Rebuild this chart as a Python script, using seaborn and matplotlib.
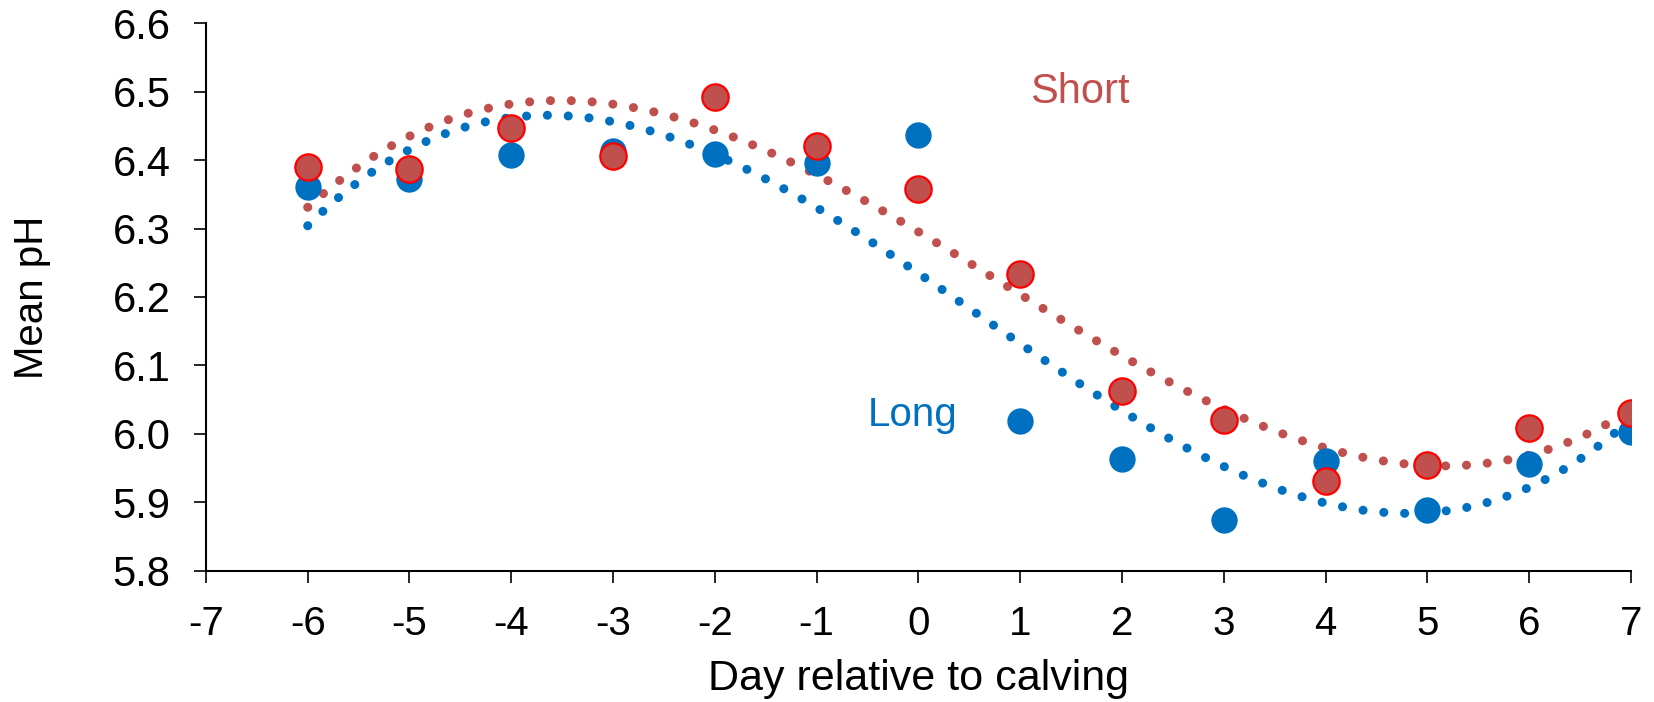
import numpy as np
import pandas as pd
import matplotlib
matplotlib.use("Agg")
import matplotlib.pyplot as plt
import seaborn as sns

# Datos
dias = [-6, -5, -4, -3, -2, -1, 0, 1, 2, 3, 4, 5, 6, 7]
ph_long = [6.361, 6.372, 6.407, 6.413, 6.409, 6.395, 6.437,
           6.019, 5.963, 5.874, 5.960, 5.888, 5.956, 6.002]
ph_short = [6.390, 6.387, 6.447, 6.406, 6.492, 6.420, 6.358,
            6.233, 6.062, 6.020, 5.931, 5.954, 6.008, 6.030]

x_ticks = list(range(-7, 8))
y_ticks = [5.8, 5.9, 6.0, 6.1, 6.2, 6.3, 6.4, 6.5, 6.6]

azul = '#0070C0'
rojo = '#C0504D'

df_long = pd.DataFrame({'dia': dias, 'ph': ph_long})
df_short = pd.DataFrame({'dia': dias, 'ph': ph_short})

sns.set_theme(style='white')
plt.rcParams['font.family'] = ['Liberation Sans', 'DejaVu Sans']

fig, ax = plt.subplots(figsize=(16.54, 7.02), dpi=100)
fig.subplots_adjust(left=0.1245, right=0.986, top=0.967, bottom=0.187)

# Lineas de tendencia polinomicas (orden 3), punteadas
dots = (0, (0.01, 2.3))
sns.regplot(data=df_long, x='dia', y='ph', order=3, ci=None, scatter=False, ax=ax,
            line_kws={'color': azul, 'lw': 6.5, 'linestyle': dots,
                      'dash_capstyle': 'round', 'zorder': 2})
sns.regplot(data=df_short, x='dia', y='ph', order=3, ci=None, scatter=False, ax=ax,
            line_kws={'color': rojo, 'lw': 6.5, 'linestyle': dots,
                      'dash_capstyle': 'round', 'zorder': 2})

# Puntos
sns.scatterplot(data=df_long, x='dia', y='ph', ax=ax, color=azul, s=360,
                edgecolor=azul, linewidth=0, zorder=3)
sns.scatterplot(data=df_short, x='dia', y='ph', ax=ax, color=rojo, s=360,
                edgecolor='#FF0000', linewidth=1.6, zorder=4)

ax.text(1.59, 6.499, 'Short', color=rojo, fontsize=30, ha='center', va='center')
ax.text(-0.06, 6.028, 'Long', color=azul, fontsize=29, ha='center', va='center')

ax.set_xlim(-7, 7)
ax.set_ylim(5.8, 6.6)
ax.set_xticks(x_ticks)
ax.set_xticklabels([str(t) for t in x_ticks])
ax.set_yticks(y_ticks)
ax.set_yticklabels([f'{t:.1f}' for t in y_ticks])

ax.set_xlabel('Day relative to calving', fontsize=31, color='black', va='top')
ax.set_ylabel('Mean pH', fontsize=29, color='black')
ax.xaxis.set_label_coords(0.5, -0.162)
ax.yaxis.set_label_coords(-0.109, 0.5)

ax.tick_params(axis='both', colors='black', direction='out',
               length=8.5, width=1.2, bottom=True, left=True)
ax.tick_params(axis='y', labelsize=30, pad=17)
ax.tick_params(axis='x', labelsize=29, pad=16)

for lado in ['top', 'right']:
    ax.spines[lado].set_visible(False)
for lado in ['left', 'bottom']:
    ax.spines[lado].set_color('black')
    ax.spines[lado].set_linewidth(1.5)
ax.grid(False)

plt.savefig('out.png', dpi=100)
